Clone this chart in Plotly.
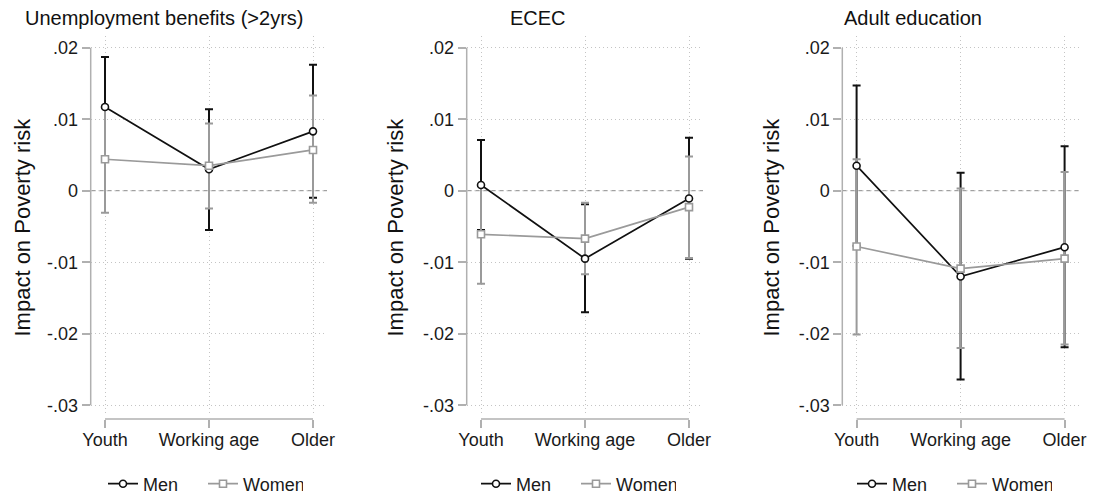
import plotly.graph_objects as go

# ---------------- data ----------------
categories = ["Youth", "Working age", "Older"]
panel_titles = ["Unemployment benefits (>2yrs)", "ECEC", "Adult education"]
y_ticks = [-0.03, -0.02, -0.01, 0, 0.01, 0.02]
y_ticklabels = ["-.03", "-.02", "-.01", "0", ".01", ".02"]
ref_value = 0

men_est_ub = [0.0117, 0.0030, 0.0083]
men_lo_ub = [0.0046, -0.0055, -0.0010]
men_hi_ub = [0.0187, 0.0114, 0.0176]
women_est_ub = [0.0044, 0.0035, 0.0057]
women_lo_ub = [-0.0031, -0.0025, -0.0017]
women_hi_ub = [0.0119, 0.0094, 0.0133]

men_est_ecec = [0.0008, -0.0095, -0.0011]
men_lo_ecec = [-0.0055, -0.0170, -0.0095]
men_hi_ecec = [0.0071, -0.0019, 0.0074]
women_est_ecec = [-0.0061, -0.0067, -0.0023]
women_lo_ecec = [-0.0130, -0.0117, -0.0094]
women_hi_ecec = [0.0008, -0.0017, 0.0048]

men_est_ae = [0.0035, -0.0120, -0.0079]
men_lo_ae = [-0.0077, -0.0264, -0.0219]
men_hi_ae = [0.0147, 0.0025, 0.0062]
women_est_ae = [-0.0078, -0.0109, -0.0095]
women_lo_ae = [-0.0201, -0.0220, -0.0215]
women_hi_ae = [0.0044, 0.0003, 0.0026]

panels = [
    (men_est_ub, men_lo_ub, men_hi_ub, women_est_ub, women_lo_ub, women_hi_ub),
    (men_est_ecec, men_lo_ecec, men_hi_ecec, women_est_ecec, women_lo_ecec, women_hi_ecec),
    (men_est_ae, men_lo_ae, men_hi_ae, women_est_ae, women_lo_ae, women_hi_ae),
]

# ---------------- layout constants ----------------
W, H = 1093, 497
FONT = "Liberation Sans, Arial, Helvetica, sans-serif"
MEN_C = "#111111"
WOMEN_C = "#9a9a9a"
AXIS_C = "#b0b0b0"
GRID_C = "#c4c4c4"

axis_px = [90.7, 466.7, 842.3]       # left edge of each plot region (px)
cat_step = 104.0                       # px between categories
left_pad = 14.3
right_pad = 14.0
plot_top, plot_bot = 36.0, 414.0
xaxis_line_px = 419.0
y_range = [-(plot_bot - 190.7) / 7150.0, (190.7 - plot_top) / 7150.0]
x_range = [-left_pad / cat_step, 2 + right_pad / cat_step]

title_cx = [164, 537.5, 913]
ytitle_cx = [22, 395, 771]
legend_x = [103, 476, 852]

fig = go.Figure()
xs = list(range(len(categories)))

def diffs(est, lo, hi):
    return [h - e for e, h in zip(est, hi)], [e - l for e, l in zip(est, lo)]

layout = dict(
    width=W, height=H, margin=dict(l=0, r=0, t=0, b=0, autoexpand=False),
    paper_bgcolor="white", plot_bgcolor="white",
    font=dict(family=FONT, color="#1a1a1a", size=17),
    shapes=[], annotations=[],
)

for i, (m_e, m_l, m_h, w_e, w_l, w_h) in enumerate(panels):
    sfx = "" if i == 0 else str(i + 1)
    xa, ya = "x" + sfx, "y" + sfx
    leg = "legend" + sfx
    mp, mm = diffs(m_e, m_l, m_h)
    wp, wm = diffs(w_e, w_l, w_h)
    fig.add_trace(go.Scatter(x=xs, y=m_e, xaxis=xa, yaxis=ya, mode="markers",
                             marker=dict(size=1, opacity=0), showlegend=False, hoverinfo="skip",
                             error_y=dict(type="data", symmetric=False, array=mp, arrayminus=mm,
                                          color=MEN_C, thickness=2, width=4)))
    fig.add_trace(go.Scatter(x=xs, y=w_e, xaxis=xa, yaxis=ya, mode="markers",
                             marker=dict(size=1, opacity=0), showlegend=False, hoverinfo="skip",
                             error_y=dict(type="data", symmetric=False, array=wp, arrayminus=wm,
                                          color=WOMEN_C, thickness=2, width=4)))
    fig.add_trace(go.Scatter(x=xs, y=m_e, xaxis=xa, yaxis=ya, mode="lines+markers", name="Men",
                             legend=leg, legendrank=1,
                             line=dict(color=MEN_C, width=1.7),
                             marker=dict(symbol="circle", size=7, color="white",
                                         line=dict(color=MEN_C, width=1.6))))
    fig.add_trace(go.Scatter(x=xs, y=w_e, xaxis=xa, yaxis=ya, mode="lines+markers", name="Women",
                             legend=leg, legendrank=2,
                             line=dict(color=WOMEN_C, width=1.7),
                             marker=dict(symbol="square", size=7, color="white",
                                         line=dict(color=WOMEN_C, width=1.6))))
    x0 = axis_px[i]
    x1 = axis_px[i] + left_pad + 2 * cat_step + right_pad
    layout["xaxis" + sfx] = dict(
        domain=[x0 / W, x1 / W], range=x_range, anchor="free",
        position=1 - xaxis_line_px / H,
        tickvals=xs, ticktext=categories, showline=False, zeroline=False,
        showgrid=True, gridcolor=GRID_C, griddash="1px,3px", gridwidth=1,
        ticks="outside", ticklen=8, tickwidth=1.5, tickcolor=AXIS_C,
        ticklabelstandoff=-4,
        tickfont=dict(size=18, family=FONT, color="#1a1a1a"),
        fixedrange=True,
    )
    layout["yaxis" + sfx] = dict(
        domain=[1 - plot_bot / H, 1 - plot_top / H], range=y_range, anchor=xa,
        tickvals=y_ticks, ticktext=y_ticklabels, showline=False, zeroline=False,
        showgrid=True, gridcolor=GRID_C, griddash="1px,3px", gridwidth=1,
        ticks="outside", ticklen=8, tickwidth=1.5, tickcolor=AXIS_C,
        tickfont=dict(size=18, family=FONT, color="#1a1a1a"),
        fixedrange=True,
    )
    layout["shapes"].append(dict(type="line", xref=xa + " domain", yref=ya,
                                 x0=0, x1=0, y0=min(y_ticks), y1=max(y_ticks),
                                 line=dict(color=AXIS_C, width=1.5), layer="above"))
    layout["shapes"].append(dict(type="line", xref=xa, yref="paper",
                                 x0=xs[0], x1=xs[-1], y0=1 - xaxis_line_px / H, y1=1 - xaxis_line_px / H,
                                 line=dict(color=AXIS_C, width=1.5), layer="above"))
    layout["shapes"].append(dict(type="line", xref=xa + " domain", yref=ya,
                                 x0=0, x1=1, y0=ref_value, y1=ref_value,
                                 line=dict(color="#8a8a8a", width=1, dash="5px,3px"), layer="below"))
    layout["annotations"].append(dict(text=panel_titles[i], xref="paper", yref="paper",
                                      x=title_cx[i] / W, y=1 - 18 / H, xanchor="center", yanchor="middle",
                                      showarrow=False, font=dict(size=20, family=FONT, color="#111111")))
    layout["annotations"].append(dict(text="Impact on Poverty risk", xref="paper", yref="paper",
                                      x=ytitle_cx[i] / W, y=1 - 227.5 / H, xanchor="center", yanchor="middle",
                                      textangle=-90, showarrow=False,
                                      font=dict(size=22, family=FONT, color="#111111")))
    layout[leg] = dict(orientation="h", x=legend_x[i] / W, xanchor="left",
                       y=1 - 484 / H, yanchor="middle", bgcolor="rgba(0,0,0,0)",
                       font=dict(size=18, family=FONT, color="#1a1a1a"),
                       entrywidth=55, entrywidthmode="pixels", itemwidth=30)

fig.update_layout(**layout)
fig.write_html("out.html")
